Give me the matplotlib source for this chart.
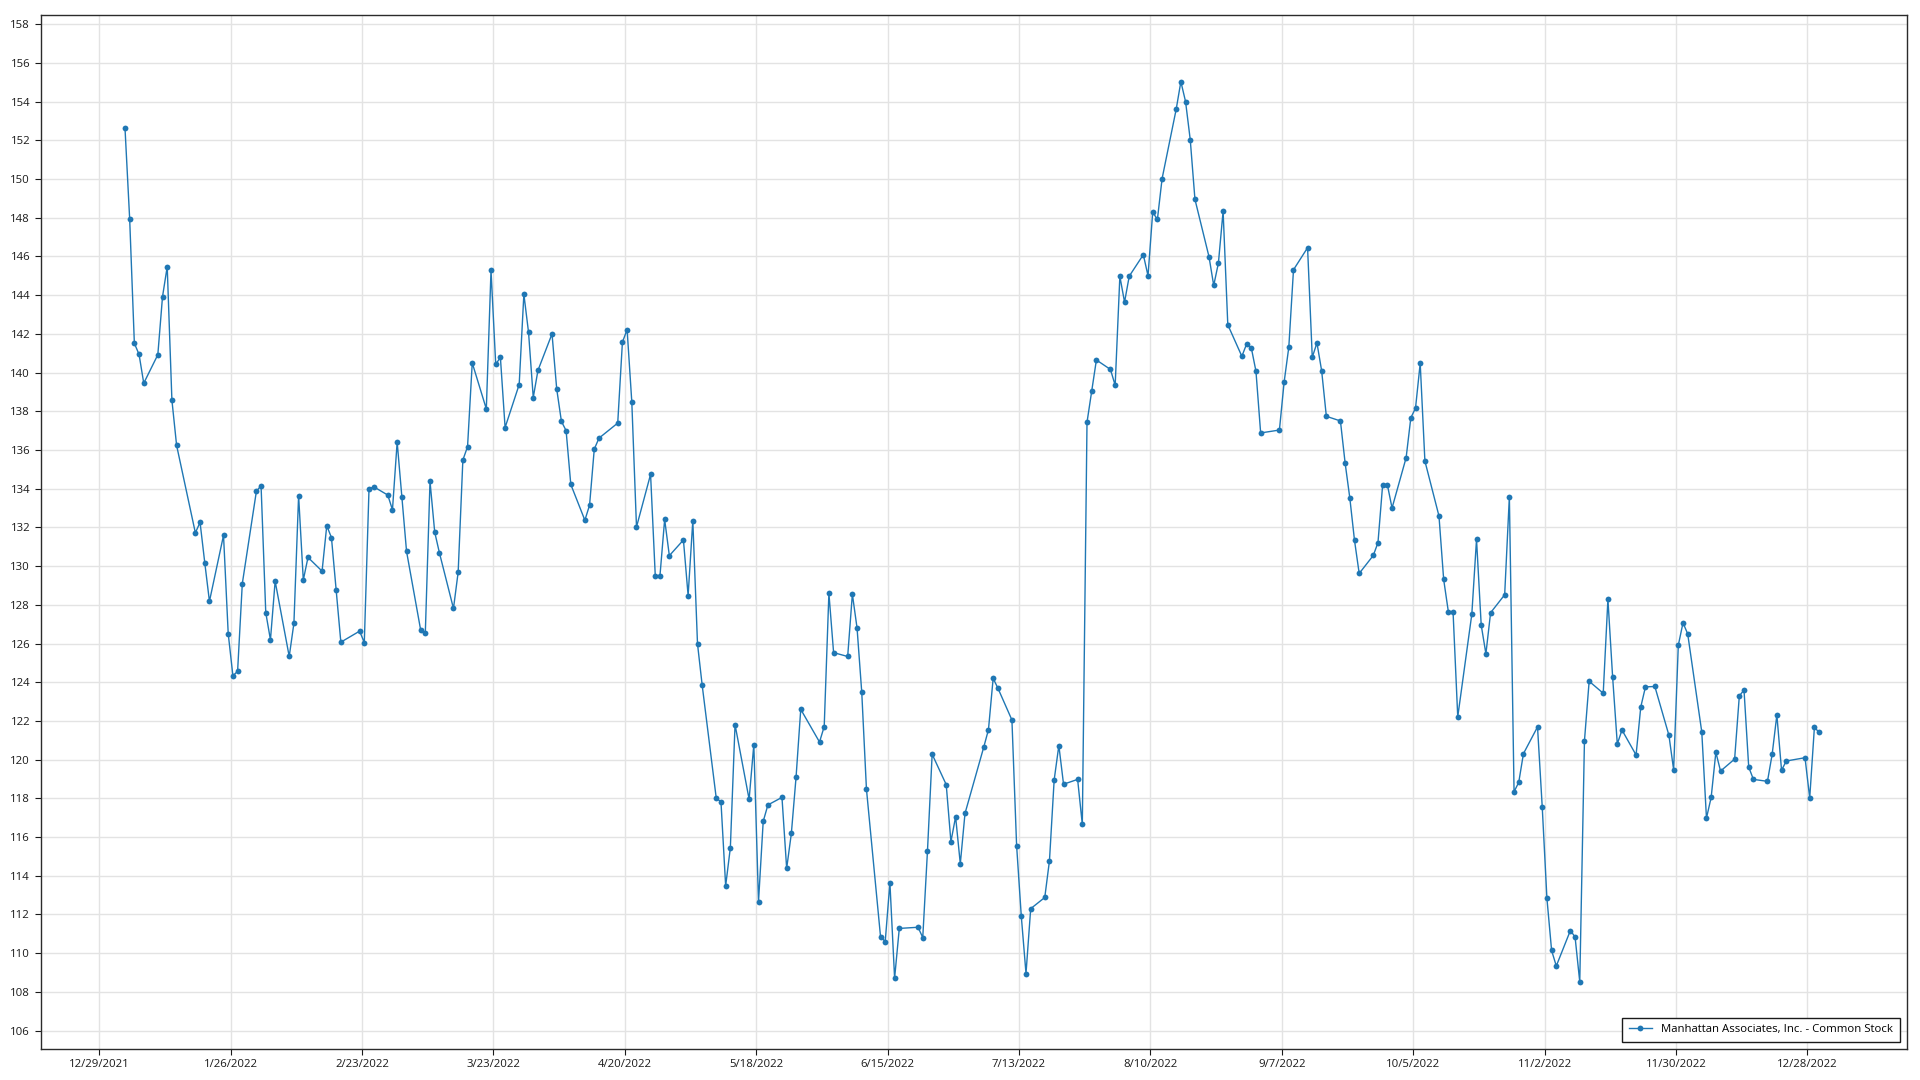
import numpy as np
import pandas as pd
import matplotlib
matplotlib.use('Agg')
import matplotlib.pyplot as plt
import matplotlib.dates as mdates
from matplotlib.ticker import FuncFormatter

# closing prices per month
jan = [152.66, 147.94, 141.51, 140.94, 139.45, 140.92, 143.92, 145.47, 138.58, 136.24,
       131.72, 132.26, 130.18, 128.18, 131.59, 126.51, 124.33, 124.57, 129.09, 133.86]
feb = [134.16, 127.60, 126.19, 129.22, 125.33, 127.05, 133.64, 129.28, 130.45, 129.74,
       132.09, 131.47, 128.78, 126.07, 126.64, 126.05, 133.98, 134.10, 133.67]
mar = [132.91, 136.41, 133.57, 130.76, 126.71, 126.55, 134.38, 131.76, 130.69, 127.81,
       129.69, 135.48, 136.17, 140.50, 138.12, 145.28, 140.43, 140.78, 137.16, 139.38,
       144.05, 142.07, 138.71]
apr = [140.11, 142.00, 139.15, 137.48, 137.00, 134.22, 132.37, 133.15, 136.04, 136.61,
       137.39, 141.57, 142.22, 138.48, 132.02, 134.74, 129.50, 129.50, 132.41, 130.54]
may = [131.35, 128.48, 132.35, 125.98, 123.84, 118.00, 117.83, 113.48, 115.45, 121.81,
       117.95, 120.78, 112.66, 116.81, 117.66, 118.05, 114.38, 116.19, 119.09, 122.60,
       120.91]
jun = [121.71, 128.60, 125.53, 125.33, 128.55, 126.80, 123.48, 118.48, 110.86, 110.60,
       113.64, 108.71, 111.28, 111.34, 110.81, 115.26, 120.28, 118.71, 115.76, 117.05,
       114.62]
jul = [117.22, 120.65, 121.55, 124.20, 123.70, 122.05, 115.55, 111.90, 108.95, 112.30,
       112.88, 114.78, 118.95, 120.73, 118.73, 118.98, 116.65, 137.43, 139.03, 140.65]
aug = [140.16, 139.34, 144.97, 143.64, 144.98, 146.09, 145.00, 148.29, 147.91, 150.02,
       153.60, 155.03, 154.00, 152.03, 148.95, 145.98, 144.50, 145.66, 148.34, 142.47,
       140.84, 141.47, 141.29]
sep = [140.07, 136.88, 137.03, 139.50, 141.31, 145.31, 146.45, 140.79, 141.53, 140.09,
       137.74, 137.50, 135.33, 133.52, 131.33, 129.62, 130.55, 131.21, 134.21, 134.21,
       133.00]
oct_ = [135.60, 137.66, 138.16, 140.48, 135.43, 132.59, 129.31, 127.64, 127.64, 122.21,
        127.52, 131.38, 126.95, 125.47, 127.59, 128.52, 133.59, 118.34, 118.83, 120.31,
        121.69]
nov = [117.57, 112.84, 110.14, 109.34, 111.17, 110.84, 108.52, 120.97, 124.05, 123.43,
       128.29, 124.28, 120.81, 121.53, 120.24, 122.72, 123.76, 123.78, 121.26, 119.48,
       125.91]
dec = [127.07, 126.50, 121.43, 116.98, 118.05, 120.38, 119.41, 120.03, 123.29, 123.60,
       119.62, 118.98, 118.88, 120.28, 122.31, 119.45, 119.93, 120.10, 118.02, 121.67,
       121.41]

# market holidays 2022
holidays = ['2022-01-17', '2022-02-21', '2022-04-15', '2022-05-30', '2022-06-20',
            '2022-07-04', '2022-09-05', '2022-11-24', '2022-12-26']

series_name = 'Manhattan Associates, Inc. - Common Stock'

precios = jan + feb + mar + apr + may + jun + jul + aug + sep + oct_ + nov + dec
fechas = pd.bdate_range('2022-01-03', '2022-12-30', freq='C', holidays=holidays)
fechas = fechas + pd.Timedelta(hours=12)  # closes are stamped mid-day
assert len(fechas) == len(precios)

plt.rcParams['font.family'] = ['Open Sans', 'DejaVu Sans']

fig = plt.figure(figsize=(19.2, 10.8), dpi=100)
ax = fig.add_axes([40.5 / 1920, 1 - 1049 / 1080, (1906.5 - 40.5) / 1920, (1049 - 14.5) / 1080])

color = '#1f77b4'
ax.plot(fechas, precios, color=color, lw=1.0, marker='o', markersize=4.2,
        markeredgewidth=0, label=series_name)

# ejes
ax.set_ylim(105.05, 158.5)
ax.set_yticks(np.arange(106, 159, 2))
ax.set_xlim(pd.Timestamp('2021-12-16 12:00'), pd.Timestamp('2023-01-18 03:00'))
ticks_x = pd.date_range('2021-12-29', '2022-12-28', freq='28D')
ax.set_xticks(ticks_x)
ax.xaxis.set_major_formatter(FuncFormatter(
    lambda v, pos: '{}/{}/{}'.format(mdates.num2date(v).month, mdates.num2date(v).day,
                                     mdates.num2date(v).year)))

ax.grid(True, color='#e3e3e3', lw=1.0)
ax.set_axisbelow(True)
for s in ax.spines.values():
    s.set_color('#2b2b2b')
    s.set_linewidth(1.0)
ax.tick_params(axis='both', labelsize=8.2, colors='#1a1a1a', length=4, width=0.8, direction='out')

leg = ax.legend(loc='lower right', fontsize=8.2, fancybox=False, framealpha=1,
                edgecolor='#1a1a1a', borderaxespad=0.6, handlelength=2.0,
                borderpad=0.6)
leg.get_frame().set_linewidth(1.0)

fig.savefig('out.png', dpi=100, facecolor='white')
